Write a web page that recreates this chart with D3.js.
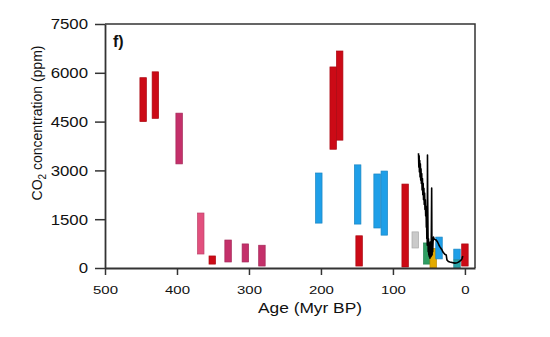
<!DOCTYPE html>
<html><head><meta charset="utf-8">
<script src="https://cdn.jsdelivr.net/npm/d3@7"></script>
<style>
body{margin:0;background:#fff;}
text{font-family:"Liberation Sans",Arial,Helvetica,sans-serif;fill:#111;}
</style></head>
<body><svg id="c" width="550" height="337"></svg>
<script>
// ---- data ----
const barAge   = [447, 430, 397, 367, 351, 329, 305, 282, 183, 174, 203, 149, 147, 122, 112, 83, 69, 53, 44, 36, 11, 11, 0];
const barLow   = [4500,4600,3200, 430, 120, 185, 185,  60,3650,3930,1380,1350,  60,1230,1010, 30, 615, 120,   0, 280, 250,   0,  60];
const barHigh  = [5850,6030,4760,1690, 370, 860, 740, 700,6180,6670,2920,3170, 990,2890,2980,2580,1110, 770, 600, 950, 580, 250, 740];
const barGroup = ["A","A","B","C","A","B","B","B","A","A","D","D","A","D","D","A","E","F","G","D","D","H","A"];
const groupNames = ["A","B","C","D","E","F","G","H"];
const lineAge = [64.5,64,63.6,63.2,62.8,62.3,61.9,61.4,61,60.5,60,59.5,59,58.5,58,57.5,57,56.5,56,55.5,55,54.5,54,53.6,53.2,52.9,52.6,52.3,52,51.7,51.3,51,50.6,50.2,49.8,49.4,49,48.6,48.2,47.8,47.4,47,46.6,46.2,45.9,45.6,45.2,44.8,44.3,43.6,43,42,40,38,36,34.7,32,30.5,28,26,25,23,21,18,14,11,9,7,5,4,3];
const linePpm = [3530,3100,3450,2950,3300,2800,3200,2700,3050,2600,2900,2400,2750,2250,2600,2100,2450,1950,2300,1800,2100,1600,1900,1250,1500,900,1300,700,3470,2100,1100,500,900,400,750,350,650,300,800,450,600,350,1200,2460,900,400,700,500,800,950,900,880,860,800,700,650,560,490,420,400,250,200,185,170,150,160,180,215,250,290,370];
const yTicks = [0,1500,3000,4500,6000,7500];
const xTicks = [500,400,300,200,100,0];

// ---- layout ----
const svg = d3.select("#c");
const m = {l:105, t:24, w:370, h:244};
const g = svg.append("g").attr("transform",`translate(${m.l},${m.t})`);
const x = d3.scaleLinear().domain([500,-14]).range([0,m.w]);
const y = d3.scaleLinear().domain([0,7500]).range([m.h,0]);
const color = d3.scaleOrdinal().domain(groupNames)
  .range(["#cc0a16","#c4306a","#e2507e","#1f9fe8","#cacaca","#2e9e62","#e2aa00","#2aa4a8"]);

const bars = barAge.map((a,i)=>({age:a, lo:barLow[i], hi:barHigh[i], grp:barGroup[i]}));
const bw = 6.5;
g.selectAll("rect.bar").data(bars).join("rect").attr("class","bar")
  .attr("x",d=>x(d.age)-bw/2).attr("width",bw)
  .attr("y",d=>y(d.hi)).attr("height",d=>y(d.lo)-y(d.hi))
  .attr("fill",d=>color(d.grp))
  .attr("stroke",d=>d3.color(color(d.grp)).darker(0.5)).attr("stroke-width",0.7);

const line = d3.line().x(d=>x(d[0])).y(d=>y(d[1]));
g.append("path").datum(lineAge.map((a,i)=>[a,linePpm[i]]))
  .attr("d",line).attr("fill","none").attr("stroke","#000").attr("stroke-width",1.6)
  .attr("stroke-linejoin","round");

// frame
g.append("path").attr("d",`M0,0H${m.w}V${m.h}`).attr("fill","none")
  .attr("stroke","#333").attr("stroke-width",1.5);

const ya = g.append("g").call(d3.axisLeft(y).tickValues(yTicks).tickFormat(d3.format("d")).tickSize(10).tickPadding(7).tickSizeOuter(0));
const xa = g.append("g").attr("transform",`translate(0,${m.h})`)
  .call(d3.axisBottom(x).tickValues(xTicks).tickFormat(d3.format("d")).tickSize(7).tickPadding(11).tickSizeOuter(0));
[ya,xa].forEach(a=>{a.select(".domain").attr("stroke","#333").attr("stroke-width",1.8);
  a.selectAll(".tick line").attr("stroke","#333").attr("stroke-width",1.5);});
ya.selectAll("text").attr("font-size",15).attr("fill","#111").attr("font-family","Liberation Sans, Arial, sans-serif")
  .each(function(){this.setAttribute("textLength",this.getComputedTextLength()*1.12);this.setAttribute("lengthAdjust","spacingAndGlyphs");});
xa.selectAll("text").attr("font-size",11.5).attr("fill","#111").attr("font-family","Liberation Sans, Arial, sans-serif")
  .each(function(){this.setAttribute("textLength",this.getComputedTextLength()*1.3);this.setAttribute("lengthAdjust","spacingAndGlyphs");});

// titles
const xt = svg.append("text").attr("x",310).attr("y",313).attr("text-anchor","middle")
  .attr("font-size",14.5).text("Age (Myr BP)");
xt.attr("textLength",104).attr("lengthAdjust","spacingAndGlyphs");

const yt = svg.append("text").attr("text-anchor","middle").attr("font-size",14)
  .attr("transform","translate(42,123) rotate(-90)");
yt.append("tspan").text("CO");
yt.append("tspan").attr("font-size",10).attr("dy",4).text("2");
yt.append("tspan").attr("dy",-4).text(" concentration (ppm)");

svg.append("text").attr("x",113).attr("y",47).attr("font-size",16).attr("font-weight","bold").text("f)");
</script></body></html>
